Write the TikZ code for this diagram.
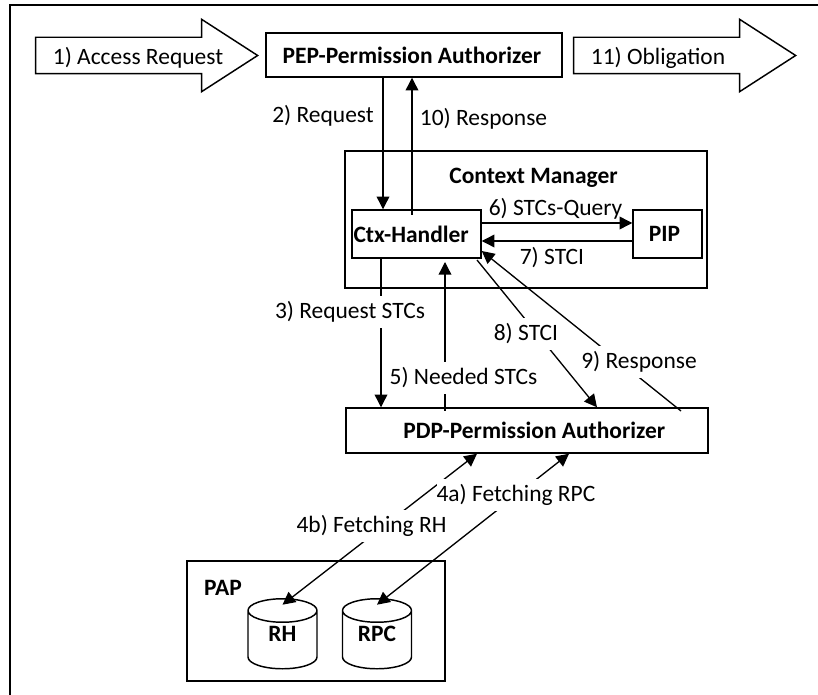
\documentclass[tikz,border=0pt]{standalone}
\usepackage{fontspec}
\setmainfont{Carlito}
\usetikzlibrary{arrows.meta}
\usetikzlibrary{shapes.arrows, shapes.geometric}
\newcommand{\storetext}[1]{\makebox[22pt]{\smash{\raisebox{5pt}{#1}}\rule{0pt}{12pt}}}
\tikzset{
  box/.style={draw, line width=1.1pt, fill=white, inner sep=0pt, font=\fontsize{17.6}{20}\bfseries},
  blockarrow/.style={draw, line width=1.1pt, single arrow, anchor=tip, inner sep=0pt, text height=26.25pt, text depth=0pt, minimum height=166.5pt, minimum width=53.25pt, single arrow head extend=13.5pt, single arrow tip angle=65.7, single arrow head indent=0pt},
  store/.style={draw, line width=1.1pt, cylinder, shape border rotate=90, aspect=0.8, inner sep=0pt, minimum height=52.5pt, minimum width=51.75pt, font=\fontsize{17.6}{20}\bfseries},
  flow/.style={line width=1pt, -{Triangle[length=9.5pt,width=9.5pt]}},
  twoway/.style={line width=1pt, {Triangle[length=9.5pt,width=9.5pt]}-{Triangle[length=9.5pt,width=9.5pt]}},
  lbl/.style={inner sep=0pt, font=\fontsize{17.6}{20}\selectfont},
  gaplbl/.style={lbl, fill=white, minimum height=24.5pt},
  bold/.style={inner sep=0pt, font=\fontsize{17.6}{20}\bfseries}
}
\begin{document}
\begin{tikzpicture}[x=0.75pt,y=-0.75pt]
      \useasboundingbox (0,0) rectangle (818,695);
      \draw[line width=1.1pt] (10,695) -- (10,5) -- (818,5);

      \node[box, minimum width=271.5pt, minimum height=102.75pt] (cm) at (526,219.5) {};
      \node[blockarrow] (in) at (259,55.5) {};
      \node[blockarrow] (out) at (797,55.5) {};
      \node[box, minimum width=222pt, minimum height=33pt] (pep) at (414,55) {\raisebox{-1.5pt}{PEP-Permission Authorizer}\hspace*{3pt}};
      \node[box, minimum width=96.75pt, minimum height=36pt] (ctx) at (416.5,234) {\raisebox{-1.5pt}{Ctx-Handler}\hspace*{8pt}};
      \node[box, minimum width=51.75pt, minimum height=36pt] (pip) at (667.5,234) {\raisebox{-1.5pt}{PIP}\hspace*{4.5pt}};
      \node[box, minimum width=271.5pt, minimum height=33.75pt] (pdp) at (527,430.5) {\hspace*{11pt}\raisebox{-1.5pt}{PDP-Permission Authorizer}};
      \node[box, minimum width=193.5pt, minimum height=90pt] (pap) at (316,621) {};
      \node[store] (rh) at (282.5,640) {\storetext{RH}};
      \node[store] (rpc) at (377,640) {\storetext{RPC}};

      \draw[flow] (383,0 |- pep.south) -- (383,0 |- ctx.north);
      \draw[flow] (412,215) -- (412,0 |- pep.south);
      \draw[flow] (ctx.east |- 0,223) -- (pip.west |- 0,223);
      \draw[flow] (pip.west |- 0,241) -- (ctx.east |- 0,241);
      \draw[flow] (381,0 |- ctx.south) -- (381,0 |- pdp.north);
      \draw[flow] (445,411) -- (445,262);
      \draw[flow] (477,260) -- (597,0 |- pdp.north);
      \draw[flow] (681,411) -- (ctx.east |- 0,251);
      \draw[twoway] (477,0 |- pdp.south) -- ([yshift=-5pt]rh.north);
      \draw[twoway] (569,0 |- pdp.south) -- ([yshift=-5pt]rpc.north);

      \node[lbl] (inlbl) at (138,58) {1) Access Request};
      \node[lbl] (outlbl) at (658,58) {11) Obligation};
      \node[lbl] (reqlbl) at (323,116) {2) Request};
      \node[lbl] (resplbl) at (483.5,119) {10) Response};
      \node[bold] (cmlbl) at (533.5,178) {Context Manager};
      \node[lbl] (querylbl) at (555.5,209) {6) STCs-Query};
      \node[lbl] (stcilbl) at (552,258) {7) STCI};
      \node[gaplbl] (fetchlbl) at (350,312) {3) Request STCs};
      \node[gaplbl] (neededlbl) at (463.5,378) {5) Needed STCs};
      \node[gaplbl] (stcibl) at (526,334) {8) STCI};
      \node[gaplbl] (resp2lbl) at (639,362) {9) Response};
      \node[gaplbl] (rpclbl) at (516,495) {4a) Fetching RPC};
      \node[gaplbl] (rhlbl) at (371.5,526) {4b) Fetching RH};
      \node[bold] (paplbl) at (223,588) {PAP};
\end{tikzpicture}
\end{document}
